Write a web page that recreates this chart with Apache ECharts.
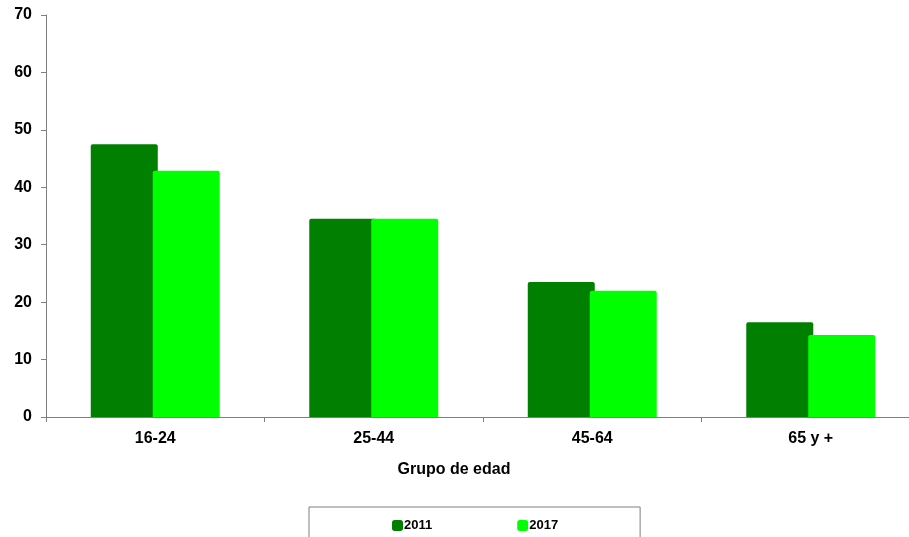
<!DOCTYPE html>
<html>
<head>
<meta charset="utf-8">
<title>Grupo de edad</title>
<script src="https://cdn.jsdelivr.net/npm/echarts@6/dist/echarts.min.js"></script>
<style>
  html, body { margin: 0; padding: 0; background: #fff; overflow: hidden; }
  /* el eje X sigue un poco más allá del borde derecho, como en el original */
  #main { width: 920px; height: 537px; }
</style>
</head>
<body>
<div id="main"></div>
<script>
// datos
const grupos = ['16-24', '25-44', '45-64', '65 y +']
const valores2011 = [47.5, 34.5, 23.5, 16.5]
const valores2017 = [42.9, 34.5, 22.0, 14.3]
const yTicks = { min: 0, max: 70, interval: 10 }

const fuente = 'Arial, "Liberation Sans", sans-serif'
const chart = echarts.init(document.getElementById('main'))

const option = {
  animation: false,
  textStyle: { fontFamily: fuente },
  grid: { left: 46, top: 15, right: 0, bottom: 120 },
  legend: {
    left: 309,
    top: 507,
    padding: [12, 82, 24, 83],
    itemGap: 85,
    itemWidth: 11,
    itemHeight: 11,
    icon: 'roundRect',
    borderColor: '#7f7f7f',
    borderWidth: 1,
    textStyle: { fontFamily: fuente, fontSize: 13, fontWeight: 'bold', color: '#000', padding: [0, 0, 0, -4] },
    data: ['2011', '2017']
  },
  xAxis: {
    type: 'category',
    data: grupos,
    name: 'Grupo de edad',
    nameLocation: 'middle',
    nameGap: 45,
    nameTextStyle: { fontFamily: fuente, fontSize: 16, fontWeight: 'bold', color: '#000', padding: [0, 58, 0, 0] },
    axisLine: { lineStyle: { color: '#808080', width: 1 } },
    axisTick: { show: true, length: 5, lineStyle: { color: '#808080' } },
    axisLabel: { fontFamily: fuente, fontSize: 16, fontWeight: 'bold', color: '#000', margin: 14 },
    splitLine: { show: false }
  },
  yAxis: {
    type: 'value',
    min: yTicks.min,
    max: yTicks.max,
    interval: yTicks.interval,
    axisLine: { show: true, lineStyle: { color: '#808080', width: 1 } },
    axisTick: { show: true, length: 5, lineStyle: { color: '#808080' } },
    axisLabel: { fontFamily: fuente, fontSize: 16, fontWeight: 'bold', color: '#000', margin: 14 },
    splitLine: { show: false }
  },
  series: [
    {
      name: '2011',
      type: 'bar',
      data: valores2011,
      barWidth: 67,
      barGap: '-7.5%',
      itemStyle: { color: '#007f00', borderRadius: [2, 2, 0, 0] }
    },
    {
      name: '2017',
      type: 'bar',
      data: valores2017,
      barWidth: 67,
      barGap: '-7.5%',
      itemStyle: { color: '#00ff00', borderRadius: [2, 2, 0, 0] }
    }
  ]
}

chart.setOption(option)
</script>
</body>
</html>
